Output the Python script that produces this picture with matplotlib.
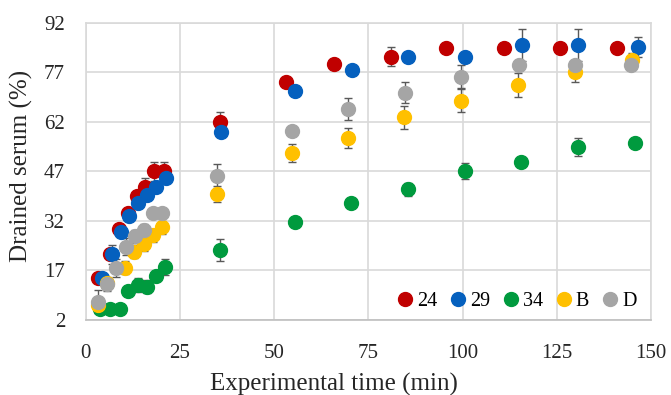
import numpy as np
import matplotlib
matplotlib.use("Agg")
import matplotlib.pyplot as plt

plt.rcParams['font.family'] = ['Liberation Serif', 'DejaVu Serif']

# series data (time in min, drained serum in %, error)
t24 = [3.3, 6.4, 8.9, 11.1, 13.5, 15.7, 18.2, 20.7, 35.6, 53.1, 65.8, 80.9, 95.7, 111.0, 126.0, 141.0]
y24 = [14.6, 21.9, 29.6, 34.5, 39.7, 42.2, 47.0, 47.0, 62.0, 74.2, 79.5, 81.8, 84.3, 84.3, 84.3, 84.3]
e24 = [0, 1.5, 1.5, 1.5, 1.5, 2.7, 2.8, 2.8, 3.0, 0, 0, 2.8, 0, 0, 0, 0]

t29 = [4.4, 6.9, 9.3, 11.5, 13.9, 16.1, 18.6, 21.2, 35.9, 55.5, 70.6, 85.6, 100.6, 115.8, 130.6, 146.6]
y29 = [14.6, 21.9, 28.6, 33.6, 37.4, 39.9, 42.4, 44.9, 59.0, 71.5, 77.8, 81.8, 81.6, 85.3, 85.3, 84.8]
e29 = [0, 2.8, 0, 0, 0, 0, 0, 0, 0, 0, 0, 0, 0, 4.8, 4.8, 3.0]

t34 = [3.8, 6.4, 9.1, 11.3, 13.8, 16.3, 18.6, 21.0, 35.6, 55.5, 70.4, 85.6, 100.6, 115.5, 130.7, 145.7]
y34 = [5.2, 5.2, 5.2, 10.9, 12.6, 12.1, 15.3, 18.0, 23.2, 31.8, 37.5, 41.6, 47.2, 50.0, 54.5, 55.7]
e34 = [0, 0, 0, 0, 2.0, 2.0, 0, 2.4, 3.2, 0, 0, 2.0, 2.5, 0, 2.7, 0]

tB = [3.3, 5.5, 10.4, 12.9, 15.5, 17.9, 20.3, 34.7, 54.6, 69.6, 84.5, 99.7, 114.6, 129.8, 145.0]
yB = [6.5, 13.3, 17.8, 22.7, 24.9, 27.7, 30.1, 40.1, 52.5, 57.2, 63.4, 68.4, 73.2, 77.1, 80.8]
eB = [0, 0, 2.0, 2.0, 2.0, 2.0, 2.0, 2.5, 2.7, 3.0, 3.5, 3.5, 3.5, 3.0, 2.0]

tD = [3.3, 5.5, 8.0, 10.7, 13.0, 15.4, 17.9, 20.3, 34.7, 54.6, 69.6, 84.7, 99.7, 114.9, 129.8, 144.8]
yD = [7.5, 12.9, 17.7, 24.2, 27.4, 29.2, 34.3, 34.3, 45.6, 59.1, 65.8, 70.9, 75.7, 79.1, 79.1, 79.1]
eD = [3.5, 2.0, 2.7, 2.5, 2.0, 2.0, 0, 0, 3.6, 0, 3.3, 3.3, 3.5, 0, 0, 0]

labels = ['24', '29', '34', 'B', 'D']
colors = ['#C00000', '#0560BE', '#009A3E', '#FFC000', '#A5A5A5']

fig = plt.figure(figsize=(6.71, 3.95), dpi=100)
ax = fig.add_axes([0.128, 0.19, 0.842, 0.752])

series = [(t24, y24, e24), (t29, y29, e29), (t34, y34, e34), (tB, yB, eB), (tD, yD, eD)]
for (t, y, e), lab, c in zip(series, labels, colors):
    ax.errorbar(t, y, yerr=e, fmt='o', color=c, ms=10, ecolor='#595959',
                elinewidth=1.0, capsize=3, capthick=1.0, label=lab, zorder=3)

ax.set_xlim(0, 150)
ax.set_ylim(2, 92)
ax.set_xticks([0, 25, 50, 75, 100, 125, 150])
ax.set_yticks([2, 17, 32, 47, 62, 77, 92])
ax.grid(True, color='#D9D9D9', lw=1.2, zorder=0)
ax.set_axisbelow(True)
for s in ['top', 'right', 'left']:
    ax.spines[s].set_color('#D9D9D9')
    ax.spines[s].set_linewidth(1.2)
ax.spines['bottom'].set_color('#BFBFBF')
ax.spines['bottom'].set_linewidth(1.2)
ax.tick_params(length=0, labelsize=15, colors='#262626')
ax.tick_params(axis='x', pad=17)
ax.tick_params(axis='y', pad=15)
ax.set_xlabel('Experimental time (min)', fontsize=18, color='#262626')
ax.set_ylabel('Drained serum (%)', fontsize=18, color='#262626')
ax.xaxis.set_label_coords(0.439, -0.178)
ax.yaxis.set_label_coords(-0.094, 0.517)

handles = [plt.Line2D([], [], marker='o', ls='', color=c, ms=10) for c in colors]
ax.legend(handles, labels, loc='center left', ncol=5, frameon=False, fontsize=14.5,
          handletextpad=0.2, columnspacing=0.63, handlelength=0.8,
          borderpad=0, borderaxespad=0, bbox_to_anchor=(0.55, 0.062))

fig.savefig('out.png', dpi=100)
